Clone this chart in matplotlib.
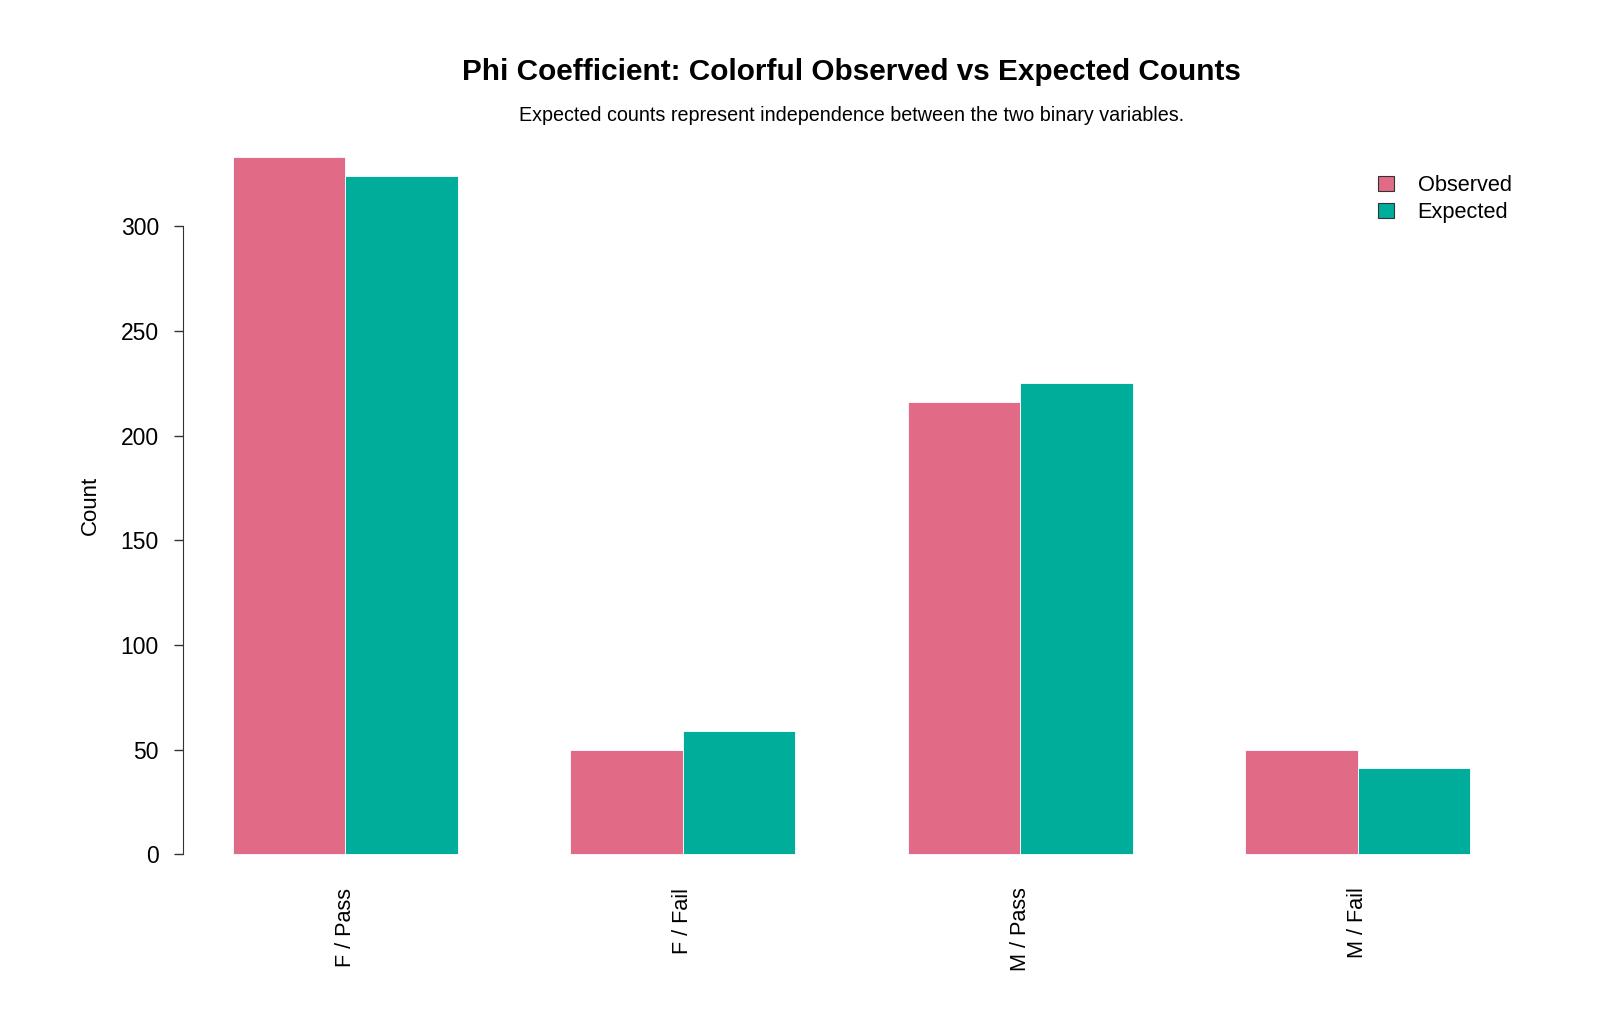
import numpy as np
import matplotlib as mpl
import matplotlib.pyplot as plt
from matplotlib.patches import Patch

mpl.rc('font', family=['Liberation Sans', 'DejaVu Sans'])

# data
categories = ['F / Pass', 'F / Fail', 'M / Pass', 'M / Fail']
observed = [333, 50, 216, 50]
expected = [324.0, 59.0, 225.0, 41.0]
series_names = ['Observed', 'Expected']
colors = ['#E16A86', '#00AD9A']

fig = plt.figure(figsize=(16, 10.18), dpi=100)
ax = fig.add_axes([0.1145, 0.1336, 0.8352, 0.7391])

# R style beside barplot: width 1, space c(0, 1)
n = len(categories)
left_obs = 1 + 3 * np.arange(n)
ax.bar(left_obs, observed, width=1, align='edge', color=colors[0],
       edgecolor='white', linewidth=0.6)
ax.bar(left_obs + 1, expected, width=1, align='edge', color=colors[1],
       edgecolor='white', linewidth=0.6)

ax.set_xlim(0.56, 12.44)
ymax = max(observed + expected)
ax.set_ylim(-0.04 * ymax, 1.04 * ymax)

for s in ['top', 'right', 'bottom']:
    ax.spines[s].set_visible(False)
ax.spines['left'].set_bounds(0, 300)
ax.spines['left'].set_color('#333333')

ax.set_yticks([0, 50, 100, 150, 200, 250, 300])
ax.tick_params(axis='y', length=6.5, width=1, color='#333333', pad=11, labelsize=16.5)
ax.set_xticks(left_obs + 1)
ax.set_xticklabels(categories, rotation=90, fontsize=15.6)
ax.tick_params(axis='x', length=0, pad=4)
for lbl in ax.get_xticklabels():
    lbl.set_x(lbl.get_position()[0])

ax.set_ylabel('Count', fontsize=16, labelpad=14)

fig.text(0.532, 0.929, 'Phi Coefficient: Colorful Observed vs Expected Counts',
         ha='center', va='center', fontsize=21.4, fontweight='bold')
fig.text(0.532, 0.887, 'Expected counts represent independence between the two binary variables.',
         ha='center', va='center', fontsize=14.2)

handles = [Patch(facecolor=c, edgecolor='#333333', linewidth=0.8) for c in colors]
ax.legend(handles, series_names, loc='upper right', bbox_to_anchor=(0.957, 0.847),
          bbox_transform=fig.transFigure, frameon=False, fontsize=15.7,
          handlelength=0.7, handleheight=0.7, handletextpad=1.1, labelspacing=0.25)

fig.savefig('out.png', dpi=100, facecolor='white')
